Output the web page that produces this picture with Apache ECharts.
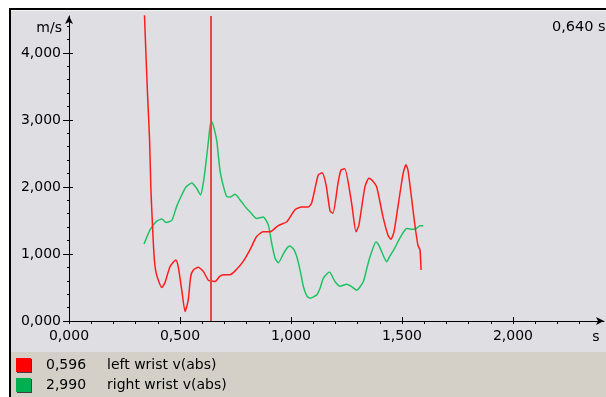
<!DOCTYPE html>
<html>
<head>
<meta charset="utf-8">
<script src="https://cdn.jsdelivr.net/npm/echarts@6/dist/echarts.min.js"></script>
<style>
  html, body { margin: 0; padding: 0; background: #ffffff; }
  #chart { width: 606px; height: 397px; }
</style>
</head>
<body>
<div id="chart"></div>
<script>
// Wrist speed traces (time in s, speed in m/s)
const seriesNames = ['left wrist v(abs)', 'right wrist v(abs)'];
const seriesColors = ['#ff1c1c', '#1ec262'];
const legendColors = ['#ff0000', '#00b050'];

const leftTime = [0.338, 0.345, 0.354, 0.363, 0.369, 0.377, 0.383, 0.390, 0.402, 0.418,
  0.432, 0.455, 0.481, 0.492, 0.508, 0.523, 0.537, 0.548, 0.560, 0.582,
  0.605, 0.627, 0.640, 0.658, 0.680, 0.703, 0.725, 0.752, 0.784, 0.815,
  0.845, 0.874, 0.905, 0.941, 0.981, 1.018, 1.048, 1.078, 1.093, 1.123,
  1.140, 1.158, 1.176, 1.189, 1.212, 1.225, 1.242, 1.273, 1.293, 1.306,
  1.333, 1.351, 1.365, 1.386, 1.414, 1.437, 1.450, 1.464, 1.482, 1.505,
  1.518, 1.527, 1.544, 1.559, 1.572, 1.581, 1.586];
const leftSpeed = [4.75, 4.12, 3.37, 2.70, 1.96, 1.36, 0.985, 0.76, 0.61, 0.50,
  0.57, 0.81, 0.91, 0.81, 0.46, 0.14, 0.31, 0.66, 0.76, 0.80,
  0.74, 0.61, 0.596, 0.59, 0.67, 0.69, 0.69, 0.76, 0.885, 1.06,
  1.26, 1.33, 1.33, 1.42, 1.48, 1.66, 1.70, 1.70, 1.76, 2.18,
  2.21, 2.03, 1.64, 1.61, 2.06, 2.25, 2.27, 1.76, 1.33, 1.43,
  2.00, 2.13, 2.10, 2.00, 1.56, 1.28, 1.22, 1.33, 1.71, 2.20,
  2.33, 2.25, 1.81, 1.41, 1.13, 1.06, 0.76];

const rightTime = [0.338, 0.365, 0.395, 0.418, 0.437, 0.463, 0.485, 0.508, 0.527, 0.553,
  0.575, 0.593, 0.605, 0.613, 0.627, 0.640, 0.649, 0.665, 0.680, 0.694,
  0.710, 0.725, 0.748, 0.770, 0.800, 0.820, 0.845, 0.875, 0.898, 0.913,
  0.928, 0.943, 0.964, 0.982, 0.995, 1.014, 1.026, 1.041, 1.056, 1.072,
  1.086, 1.116, 1.131, 1.146, 1.173, 1.198, 1.221, 1.251, 1.270, 1.296,
  1.326, 1.342, 1.356, 1.383, 1.396, 1.409, 1.431, 1.446, 1.468, 1.491,
  1.521, 1.541, 1.559, 1.581, 1.596];
const rightSpeed = [1.15, 1.36, 1.49, 1.52, 1.47, 1.50, 1.71, 1.88, 2.00, 2.06,
  1.98, 1.88, 2.06, 2.25, 2.65, 2.99, 2.93, 2.70, 2.25, 2.03,
  1.86, 1.85, 1.89, 1.81, 1.68, 1.61, 1.53, 1.55, 1.43, 1.16,
  0.94, 0.87, 0.99, 1.09, 1.12, 1.06, 0.96, 0.76, 0.51, 0.37,
  0.34, 0.39, 0.49, 0.64, 0.73, 0.59, 0.52, 0.55, 0.52, 0.46,
  0.59, 0.79, 0.96, 1.18, 1.13, 1.03, 0.885, 0.97, 1.09, 1.24,
  1.38, 1.37, 1.37, 1.42, 1.42];

// Cursor position and the readouts shown in the legend
const cursorTime = 0.640;
const cursorValues = [0.596, 2.990];

// Axis ranges and labelled ticks
const xMax = 2.41;
const yMax = 4.55;
const xTickValues = [0, 0.5, 1, 1.5, 2];
const yTickValues = [0, 1, 2, 3, 4];
const xMinorStep = 0.1;
const yMinorStep = 0.2;

function steps(step, max) {
  const out = [];
  for (let i = 0; i * step <= max + 1e-9; i++) out.push(+(i * step).toFixed(4));
  return out;
}
const xMinorValues = steps(xMinorStep, xMax - 0.05);
const yMinorValues = steps(yMinorStep, yMax - 0.1);

const fmt = v => v.toFixed(3).replace('.', ',');
const zip = (a, b) => a.map((t, i) => [t, b[i]]);

const FONT = 'DejaVu Sans';
const chart = echarts.init(document.getElementById('chart'), null, { renderer: 'canvas' });

const baseX = { type: 'value', min: 0, max: xMax, gridIndex: 0, position: 'bottom', splitLine: { show: false } };
const baseY = { type: 'value', min: 0, max: yMax, gridIndex: 0, position: 'left', splitLine: { show: false } };

chart.setOption({
  animation: false,
  textStyle: { fontFamily: FONT, fontSize: 14, color: '#000' },
  grid: { left: 69, right: 2, top: 16, bottom: 76, containLabel: false },
  graphic: [
    { type: 'rect', z: -10, shape: { x: 9, y: 8, width: 597, height: 389 }, style: { fill: '#000000' } },
    { type: 'rect', z: -10, shape: { x: 11, y: 10, width: 595, height: 387 }, style: { fill: '#f4f4f6' } },
    { type: 'rect', z: -10, shape: { x: 11, y: 11, width: 595, height: 341 }, style: { fill: '#dfdfe3' } },
    { type: 'rect', z: -10, shape: { x: 11, y: 352, width: 595, height: 45 }, style: { fill: '#d4d0c8' } },
    { type: 'text', z: 10, left: 552, top: 20,
      style: { text: fmt(cursorTime) + ' s', font: '14.5px "' + FONT + '"', fill: '#000' } }
  ],
  legend: {
    orient: 'vertical', left: 16, top: 358, height: 60, padding: 0, itemGap: 6, itemWidth: 15, itemHeight: 14,
    selectedMode: false, icon: 'rect', align: 'left',
    data: seriesNames.map((n, i) => ({
      name: n,
      itemStyle: { color: legendColors[i], borderWidth: 0, shadowColor: '#404040', shadowOffsetX: 1, shadowOffsetY: 1, shadowBlur: 0 }
    })),
    formatter: name => '{v|' + fmt(cursorValues[seriesNames.indexOf(name)]) + '}{n|' + name + '}',
    textStyle: {
      fontFamily: FONT, fontSize: 14, color: '#000',
      rich: {
        v: { fontFamily: FONT, fontSize: 14, width: 61, padding: [0, 0, 0, 10] },
        n: { fontFamily: FONT, fontSize: 14 }
      }
    }
  },
  xAxis: [
    Object.assign({}, baseX, {
      name: 's', nameLocation: 'end', nameGap: -8,
      nameTextStyle: { fontFamily: FONT, fontSize: 14, align: 'center', verticalAlign: 'top', padding: [9, 0, 0, 0] },
      axisLine: { show: true, symbol: ['none', 'arrow'], symbolSize: [6, 8], lineStyle: { color: '#000', width: 1 } },
      axisTick: { show: true, customValues: xTickValues, length: 3, lineStyle: { color: '#000' } },
      axisLabel: { show: true, customValues: xTickValues, margin: 8, formatter: fmt, color: '#000', fontFamily: FONT, fontSize: 14 }
    }),
    Object.assign({}, baseX, {
      axisLine: { show: false },
      axisTick: { show: true, customValues: xMinorValues, length: 3, lineStyle: { color: '#000' } },
      axisLabel: { show: false }
    }),
    Object.assign({}, baseX, {
      axisLine: { show: false },
      axisTick: { show: true, inside: true, customValues: xTickValues, length: 4, lineStyle: { color: '#000' } },
      axisLabel: { show: false }
    })
  ],
  yAxis: [
    Object.assign({}, baseY, {
      name: 'm/s', nameLocation: 'end', nameGap: -12,
      nameTextStyle: { fontFamily: FONT, fontSize: 14, align: 'right', verticalAlign: 'middle', padding: [0, 7, 0, 0] },
      axisLine: { show: true, symbol: ['none', 'arrow'], symbolSize: [6, 8], lineStyle: { color: '#000', width: 1 } },
      axisTick: { show: true, customValues: yTickValues, length: 6, lineStyle: { color: '#000' } },
      axisLabel: { show: true, customValues: yTickValues, margin: 8, formatter: fmt, color: '#000', fontFamily: FONT, fontSize: 14 }
    }),
    Object.assign({}, baseY, {
      axisLine: { show: false },
      axisTick: { show: true, customValues: yMinorValues, length: 2, lineStyle: { color: '#000' } },
      axisLabel: { show: false }
    }),
    Object.assign({}, baseY, {
      axisLine: { show: false },
      axisTick: { show: true, inside: true, customValues: yTickValues, length: 4, lineStyle: { color: '#000' } },
      axisLabel: { show: false }
    })
  ],
  series: [
    {
      name: seriesNames[0], type: 'line', data: zip(leftTime, leftSpeed),
      showSymbol: false, smooth: 0.2, clip: true, z: 3,
      lineStyle: { color: seriesColors[0], width: 1.5 }, itemStyle: { color: seriesColors[0] },
      markLine: {
        silent: true, symbol: ['none', 'none'], label: { show: false },
        lineStyle: { color: '#e04a4a', width: 2, type: 'solid' },
        data: [{ xAxis: cursorTime }]
      }
    },
    {
      name: seriesNames[1], type: 'line', data: zip(rightTime, rightSpeed),
      showSymbol: false, smooth: 0.2, clip: true, z: 2,
      lineStyle: { color: seriesColors[1], width: 1.5 }, itemStyle: { color: seriesColors[1] }
    }
  ]
});
</script>
</body>
</html>
